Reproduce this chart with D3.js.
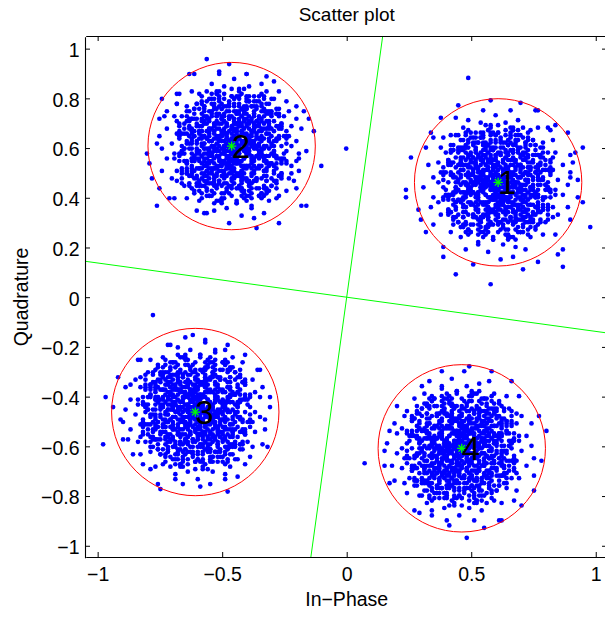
<!DOCTYPE html>
<html>
<head>
<meta charset="utf-8">
<script src="https://cdn.jsdelivr.net/npm/d3@7"></script>
<style>
  body { margin: 0; background: #fff; }
  text { font-family: "Liberation Sans", Arial, Helvetica, sans-serif; fill: #000; }
</style>
</head>
<body>
<svg id="chart" width="605" height="617"></svg>
<script>
// --- DATA ---
const xLimits = [-1.048, 1.048];
const yLimits = [-1.048, 1.048];
const xTicks = [-1, -0.5, 0, 0.5, 1];
const yTicks = [-1, -0.8, -0.6, -0.4, -0.2, 0, 0.2, 0.4, 0.6, 0.8, 1];

// constellation centres (green stars) and their labels
const centers = [[0.608, 0.462], [-0.462, 0.608], [-0.608, -0.462], [0.462, -0.608]];
const centerLabels = ["1", "2", "3", "4"];
const circleRadius = 0.336;

// decision boundaries (green lines), clipped to the axes
const boundaryA = [[-0.172, -1.25], [0.172, 1.25]];
const boundaryB = [[-1.25, 0.172], [1.25, -0.172]];

// noise offsets in units of 0.01, flat [dx, dy, dx, dy, ...]
const noiseUnit = 0.01;
// dense core shared by all clusters (each cluster uses it in its own orientation)
const coreNoise = [
  2,-4, -6,1, 9,7, -3,-12, 0,5, 14,-2, -8,-7, 4,11, -1,-3, 6,-9,
  -11,3, 1,-1, 5,-15, -4,8, 17,4, -2,-6, 8,2, -13,-10, 3,16, -7,-2,
  10,-5, -5,13, 0,-8, 7,9, -16,0, 2,3, -9,18, 12,-13, -3,4, 4,-1,
  -1,10, 13,6, -7,-14, 3,-3, -19,7, 8,-11, -2,0, 5,19, -10,-4, 16,-8,
  6,3, -12,-1, 1,12, -4,-17, 11,14, -8,5, 21,-4, 0,-10, -15,9, 3,-6,
  -5,-9, 9,-2, -2,7, 15,11, -10,-13, 4,-22, -6,15, 18,1, -1,-5, 7,6,
  1,2, -14,5, 10,-10, -3,20, 6,-4, -20,-6, 2,9, 13,-16, -9,1, 0,-14,
  8,13, -6,-3, 4,-7, -17,-11, 12,0, -1,16, 19,9, -5,-19, 3,5, -11,12,
  -3,-1, 7,-13, -12,4, 2,-2, 15,-6, -7,10, 5,22, -22,-2, 9,-9, -2,3,
  11,4, -4,-10, 0,1, 6,15, -16,-16, 14,-12, -9,7, 1,-6, 22,10, -6,-4,
  4,-16, -10,8, 17,-1, -1,6, 9,-20, -13,-5, 3,10, -5,2, 12,18, -18,13,
  0,-3, 5,7, -8,-12, 20,-9, -3,14, 7,-5, -11,0, 2,-18, -6,19, 10,3,
  -2,9, 13,-3, -15,-8, 4,4, -7,-20, 16,7, 1,-11, -12,16, 8,-15, -1,-7,
  9,-1, -5,5, 2,-9, -19,3, 11,10, -4,-15, 6,1, 15,-18, -9,12, 0,8,
  -7,-18, 3,13, -1,-4, 18,-7, -13,9, 5,-2, -3,23, 10,-10, -24,-8, 4,6,
  6,-11, -9,2, 12,8, -2,-1, -14,-14, 21,3, -5,11, 1,-7, 7,17, -11,-3,
  -4,6, 8,-6, -16,14, 3,0, 14,-15, -1,-13, 10,12, -8,-9, 0,20, 19,-3,
  2,-8, -12,-4, 6,10, -6,-22, 16,5, -3,8, -20,-13, 9,-2, 4,15, -10,4,
  13,-9, -2,-2, -9,16, 7,-14, 0,3, -15,-1, 5,-4, 23,-5, -5,-11, 11,9,
  -8,1, 4,-19, 1,11, -18,8, 12,-7, -3,-6, 17,14, -7,18, 3,-12, -13,-16,
  5,9, -1,-9, -11,11, 9,-3, -5,0, 20,-13, -14,5, 2,-15, 14,2, -4,12,
  -6,-14, 15,-4, 0,7, -2,-5, 8,21, -17,-8, 6,-9, -10,15, 18,10, 1,-2,
  10,-17, -7,4, 3,2, -21,12, 13,5, -4,-12, 1,14, -12,-19, 7,-7, -3,0,
  4,12, -13,-6, 11,-12, -1,3, 19,-1, -6,9, -16,-3, 8,-20, 2,5, -9,-10,
  -5,16, 7,0, -10,-17, 16,-10, -2,13, 3,-3, -19,-12, 12,11, -8,6, 22,-14,
  0,-6, -15,10, 9,6, -4,-8, 6,-17, -11,3, 14,-5, -1,19, -6,-1, 17,8,
  -12,7, 2,-12, 13,15, -7,-16, 5,2, -23,4, 10,-8, -3,-3, 1,17, 8,-4,
  7,-9, -9,13, -1,0, 15,-19, -14,-10, 4,9, 11,1, -5,-21, 18,-11, -2,6,
  -3,-7, 12,3, -17,-2, 1,-16, 6,12, -8,-5, 21,6, -11,20, 5,-6, -1,11,
  9,2, -4,-13, 3,-10, -13,14, 16,-3, -6,4, 0,-20, 11,16, -16,-7, 6,-2,
  -10,-1, 5,18, -2,-11, 8,7, -18,-15, 13,-14, -7,9, 2,1, -4,-18, 20,12,
  1,-5, -14,-9, 10,-14, -5,15, 7,-1, -20,9, 4,-8, 15,4, -9,-6, 12,-19,
  -6,3, 3,-15, -12,-13, 14,9, -1,-2, 9,-11, -15,17, 6,13, 0,-9, -22,6,
  8,-3, -3,11, 17,-12, -8,-4, 2,8, -11,-20, 11,-6, -5,1, 15,15, -17,2,
  5,4, -9,-11, 0,-17, 13,-2, -6,16, 19,-16, -2,-7, -14,-4, 9,10, 3,-13,
  -1,14, 10,-7, -7,2, 4,-21, -12,10, 16,1, -4,-14, 7,19, -20,-11, 1,-4,
  12,6, -5,-5, -16,7, 6,-12, 2,4, -10,18, 18,-6, -3,-17, 11,-1, -8,11,
  -4,-11, 3,7, 14,-9, -13,0, 8,14, -7,-15, 0,2, 20,-2, -11,-8, 5,20,
  7,-15, -2,-3, -9,8, 11,4, -18,-5, 3,-7, -6,13, 15,-13, -1,9, -14,-18,
  2,16, -8,-6, 9,-4, -3,10, 16,11, -12,-2, 5,-10, -15,13, 12,-16, 0,0
];
// thinner ring around the core (radius ~0.17-0.32), also shared
const midNoise = [
  24,1, 29,4, 21,4, 26,7, 29,11, 21,9, 23,12, 17,11, 22,17, 18,16,
  21,21, 14,17, 16,22, 13,21, 15,29, 8,19, 8,25, 6,22, 5,29, 3,24,
  0,20, -1,27, -3,22, -6,29, -7,24, -7,20, -12,25, -12,21, -17,26, -14,17,
  -17,19, -14,14, -22,18, -19,13, -23,14, -29,14, -19,8, -24,8, -28,7, -22,3,
  -26,2, -24,0, -30,-2, -21,-3, -26,-6, -22,-7, -27,-10, -18,-9, -23,-13, -26,-17,
  -17,-14, -18,-17, -19,-20, -13,-17, -15,-22, -12,-21, -13,-27, -8,-21, -8,-25, -4,-20,
  -4,-28, -2,-23, 1,-31, 2,-25, 3,-21, 7,-26, 7,-23, 11,-27, 10,-20, 13,-22,
  11,-16, 18,-21, 16,-17, 23,-21, 20,-15, 18,-11, 24,-13, 22,-10, 28,-10, 21,-6,
  26,-5, 20,-2, 28,-1,
  18,2, 21,5, 16,6, 17,10, 18,14, 12,13, 12,17, 7,15, 6,21, 3,19,
  0,23, -3,17, -6,20, -8,16, -13,19, -13,14, -18,13, -15,8, -20,7, -18,3,
  -22,1, -17,-2, -20,-5, -17,-8, -20,-12, -14,-12, -14,-17, -9,-14, -8,-19, -4,-17,
  -2,-23, 1,-19, 5,-22, 6,-16, 10,-18, 11,-14, 17,-16, 16,-11, 20,-10, 16,-5,
  21,-3
];
// sparse outer points of each cluster
const outer1 = [-37,-3, -37,-6, -35,10, 37,-18, 34,14, 31,12, 34,-8, -17,-37, -3,-41, 10,-35,
  26,-34, 26,-27, 24,-29, -22,-26, -22,-30, -10,-33, 16,-32, 6,-30, -29,-20, -31,-15,
  -32,-11, -26,18, -19,19, 30,8, 29,2, 32,-6, 20,22, 28,20, -12,42, -23,26,
  9,32, -3,33, -16,31, 16,29, 23,23, -27,20, 29,-15, 32,1];
const outer2 = [-34,-3, -30,-24, 36,-8, 10,-33, 19,-31, 30,-24, 28,-24, 9,-29, -10,-27, -14,-26,
  -33,-7, -32,-13, -29,-17, -25,-21, -30,1, -27,12, -26,14, -22,17, 31,11, 33,6,
  26,11, 27,-3, 27,-5, 24,-11, 25,-14, 22,-18, 18,-21, 14,-19, -10,35, 46,-1,
  -17,29, -5,30, -1,33, 6,29, 14,28, 19,22, -22,21, -28,19, 26,16];
const outer3 = [-17,39, -36,6, -37,-13, -31,14, -30,-3, -27,-11, -33,2, -18,-23, -8,-27, 2,-30,
  12,-27, 20,-21, 28,-3, 30,6, 25,17, 20,23, -4,30, 4,29, -10,27, 12,25,
  -22,21, -26,11, 27,-13, -25,-17, -14,-31, 13,-32];
const outer4 = [-39,-6, -31,-7, -19,-25, 2,-36, 9,-32, -5,-31, -8,31, 3,33, 12,31, -16,25,
  20,27, 34,7, 32,-5, 29,-17, 24,-23, -29,7, -31,-1, -27,-13, -22,15, 16,-29,
  -12,-27, 31,13];
const outerSets = [outer1, outer2, outer3, outer4];

// --- LAYOUT ---
const svg = d3.select("#chart");
const x = d3.scaleLinear().domain(xLimits).range([85.7, 607.7]);
const y = d3.scaleLinear().domain(yLimits).range([557.7, 36.7]);
const fmt = d3.format("~g");

svg.append("defs").append("clipPath").attr("id", "plot-clip")
  .append("rect")
  .attr("x", x(xLimits[0])).attr("y", y(yLimits[1]))
  .attr("width", x(xLimits[1]) - x(xLimits[0]))
  .attr("height", y(yLimits[0]) - y(yLimits[1]));

// orient a shared offset: rotate by k*90deg, optionally swapped first
function orient(dx, dy, k, swap) {
  let a = swap ? dy : dx, b = swap ? dx : dy;
  for (let i = 0; i < k; i++) { const t = a; a = -b; b = t; }
  return [a, b];
}

function addOffsets(points, arr, c, k, swaps) {
  for (let i = 0; i < arr.length; i += 2) {
    for (const swap of swaps) {
      const [a, b] = orient(arr[i], arr[i + 1], k, swap);
      points.push([c[0] + a * noiseUnit, c[1] + b * noiseUnit]);
    }
  }
}

const points = [];
centers.forEach((c, k) => {
  addOffsets(points, coreNoise, c, k, [false, true]);
  addOffsets(points, midNoise, c, k, [k % 2 === 1]);
  addOffsets(points, outerSets[k], c, 0, [false]);
});

const plot = svg.append("g").attr("clip-path", "url(#plot-clip)");

plot.append("g").selectAll("circle")
  .data(points)
  .enter().append("circle")
  .attr("cx", d => x(d[0]))
  .attr("cy", d => y(d[1]))
  .attr("r", 2.35)
  .attr("fill", "#0000ff");

const line = d3.line().x(d => x(d[0])).y(d => y(d[1]));
plot.selectAll(".boundary")
  .data([boundaryA, boundaryB])
  .enter().append("path")
  .attr("class", "boundary")
  .attr("d", line)
  .attr("fill", "none")
  .attr("stroke", "#00ff00")
  .attr("stroke-width", 1);

plot.selectAll(".ring")
  .data(centers)
  .enter().append("circle")
  .attr("class", "ring")
  .attr("cx", d => x(d[0]))
  .attr("cy", d => y(d[1]))
  .attr("r", x(circleRadius) - x(0))
  .attr("fill", "none")
  .attr("stroke", "#ff0000")
  .attr("stroke-width", 1);

// green asterisks
const star = plot.selectAll(".star")
  .data(centers)
  .enter().append("g")
  .attr("class", "star")
  .attr("transform", d => `translate(${x(d[0])},${y(d[1])})`);
[[-4.6, 0, 4.6, 0], [0, -4.6, 0, 4.6], [-3.3, -3.3, 3.3, 3.3], [-3.3, 3.3, 3.3, -3.3]].forEach(s => {
  star.append("line")
    .attr("x1", s[0]).attr("y1", s[1]).attr("x2", s[2]).attr("y2", s[3])
    .attr("stroke", "#00ff00").attr("stroke-width", 1.3);
});

svg.selectAll(".clabel")
  .data(centers)
  .enter().append("text")
  .attr("class", "clabel")
  .attr("x", d => x(d[0]))
  .attr("y", d => y(d[1]))
  .attr("dy", "0.35em")
  .attr("font-size", 33)
  .text((d, i) => centerLabels[i]);

// --- AXES (box with inward ticks) ---
function styleAxis(g) {
  g.selectAll("path.domain").attr("stroke", "#000").attr("stroke-width", 1.1);
  g.selectAll(".tick line").attr("stroke", "#000").attr("stroke-width", 1);
  g.selectAll(".tick text").attr("font-size", 19.5).attr("font-family", null).attr("fill", "#000");
}

svg.append("g")
  .attr("transform", "translate(0,557)")
  .call(d3.axisBottom(x).tickValues(xTicks).tickFormat(fmt).tickSizeInner(-5).tickSizeOuter(0).tickPadding(10.5))
  .call(styleAxis);

svg.append("g")
  .attr("transform", "translate(0,36)")
  .call(d3.axisTop(x).tickValues(xTicks).tickFormat("").tickSizeInner(-5).tickSizeOuter(0))
  .call(styleAxis);

svg.append("g")
  .attr("transform", "translate(85,0)")
  .call(d3.axisLeft(y).tickValues(yTicks).tickFormat(fmt).tickSizeInner(-5).tickSizeOuter(0).tickPadding(5.5))
  .call(styleAxis)
  .selectAll(".tick text").attr("dy", "0.4em");

svg.append("g")
  .attr("transform", "translate(607,0)")
  .call(d3.axisRight(y).tickValues(yTicks).tickFormat("").tickSizeInner(-5).tickSizeOuter(0))
  .call(styleAxis);

// --- TITLES ---
svg.append("text")
  .attr("x", 346.7).attr("y", 20.5)
  .attr("text-anchor", "middle")
  .attr("font-size", 19)
  .text("Scatter plot");

svg.append("text")
  .attr("x", 346.7).attr("y", 606)
  .attr("text-anchor", "middle")
  .attr("font-size", 19.5)
  .text("In\u2212Phase");

svg.append("text")
  .attr("transform", "translate(27.5,297) rotate(-90)")
  .attr("text-anchor", "middle")
  .attr("font-size", 19.5)
  .text("Quadrature");
</script>
</body>
</html>
